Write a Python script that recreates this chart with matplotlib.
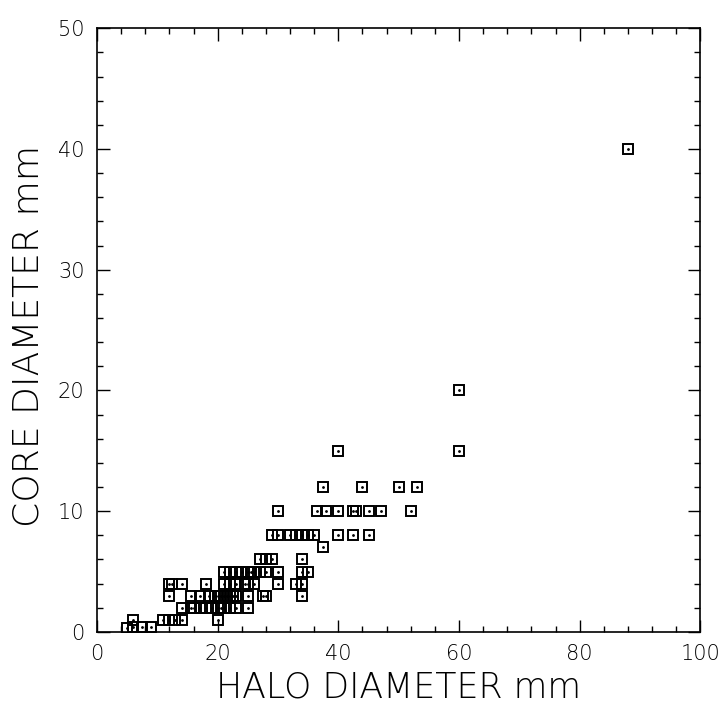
import matplotlib
matplotlib.use("Agg")
import matplotlib.pyplot as plt
from matplotlib.ticker import MultipleLocator

# halo / core diameters (mm)
halo = [88,
        60,
        40, 60,
        37.5, 44, 50, 53,
        30, 36.5, 38, 40, 42.5, 43, 45, 47, 52,
        29, 30, 32, 33, 34, 35, 36, 40, 42.5, 45,
        37.5,
        27, 28, 29, 34,
        21, 22, 23, 24, 25, 25.5, 26, 27, 28, 30, 34, 35,
        12, 12.5, 14, 18, 21, 22, 23, 24.5, 25, 26, 30, 33, 34,
        12, 15.5, 17, 18.5, 19.5, 20, 20.5, 21, 21.5, 22, 22.5, 23, 25,
        27.5, 28, 34,
        14, 15.5, 16, 17, 18, 19, 20, 20.5, 21, 22, 23, 25,
        11, 12, 13, 14, 20,
        6,
        5, 6, 7.5, 9]
core = [40,
        20,
        15, 15,
        12, 12, 12, 12,
        10, 10, 10, 10, 10, 10, 10, 10, 10,
        8, 8, 8, 8, 8, 8, 8, 8, 8, 8,
        7,
        6, 6, 6, 6,
        5, 5, 5, 5, 5, 5, 5, 5, 5, 5, 5, 5,
        4, 4, 4, 4, 4, 4, 4, 4, 4, 4, 4, 4, 4,
        3, 3, 3, 3, 3, 3, 3, 3, 3, 3, 3, 3, 3,
        3, 3, 3,
        2, 2, 2, 2, 2, 2, 2, 2, 2, 2, 2, 2,
        1, 1, 1, 1, 1,
        1,
        0.3, 0.4, 0.4, 0.4]

fig = plt.figure(figsize=(7.19, 7.06), dpi=100)
ax = fig.add_axes([0.135, 0.105, 0.839, 0.855])

ax.plot(halo, core, 's', ms=6.5, mfc='none', mec='black', mew=1.4)
ax.plot(halo, core, '.', ms=2, color='black')

ax.set_xlim(0, 100)
ax.set_ylim(0, 50)
ax.xaxis.set_major_locator(MultipleLocator(20))
ax.xaxis.set_minor_locator(MultipleLocator(4))
ax.yaxis.set_major_locator(MultipleLocator(10))
ax.yaxis.set_minor_locator(MultipleLocator(2))
ax.tick_params(which='both', direction='in', top=True, right=True,
               width=1.0)
ax.tick_params(which='major', length=9, labelsize=15, pad=9)
ax.tick_params(which='minor', length=4)
for lbl in ax.get_xticklabels() + ax.get_yticklabels():
    lbl.set_fontweight('light')
for s in ax.spines.values():
    s.set_linewidth(1.2)

ax.set_xlabel('HALO DIAMETER mm', fontsize=25, fontweight='light')
ax.set_ylabel('CORE DIAMETER mm', fontsize=26, fontweight='light')
ax.xaxis.set_label_coords(0.5, -0.092)
ax.xaxis.label.set_va('center')
ax.yaxis.set_label_coords(-0.114, 0.49)
ax.yaxis.label.set_va('center')

fig.savefig('out.png', dpi=100)
